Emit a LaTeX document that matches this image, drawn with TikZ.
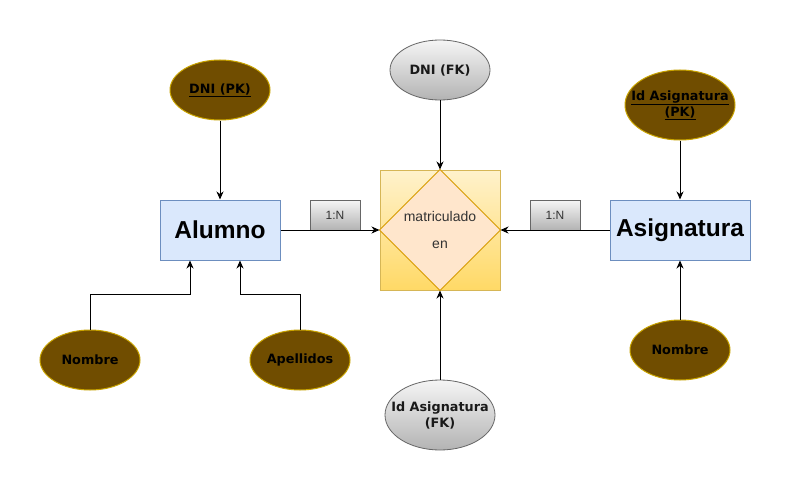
\documentclass[tikz,border=0pt]{standalone}
\usepackage{fontspec}
\setmainfont{Liberation Sans}
\newfontfamily\attrfont{DejaVu Sans}
\usetikzlibrary{shapes.geometric,arrows.meta}
\definecolor{brownfill}{HTML}{704D00}
\definecolor{brownline}{HTML}{C9A400}
\definecolor{entfill}{HTML}{DAE8FC}
\definecolor{entline}{HTML}{6C8EBF}
\definecolor{sqtop}{HTML}{FFF2CC}
\definecolor{sqbot}{HTML}{FFD966}
\definecolor{sqline}{HTML}{D6B656}
\definecolor{dmfill}{HTML}{FFE6CC}
\definecolor{dmline}{HTML}{D79B00}
\definecolor{graytop}{HTML}{F5F5F5}
\definecolor{graybot}{HTML}{B3B3B3}
\definecolor{grayline}{HTML}{666666}
\definecolor{txtdark}{HTML}{333333}
\tikzset{
  pkattr/.style={ellipse, draw=brownline, fill=brownfill, line width=1pt, inner sep=0pt},
  fkattr/.style={ellipse, draw=grayline, top color=graytop, bottom color=graybot, line width=0.8pt, inner sep=0pt},
  attrtext/.style={font=\attrfont\bfseries\fontsize{12.8}{16}\selectfont, text=black, align=center, inner sep=0pt},
  fktext/.style={attrtext, text=black!90},
  entity/.style={rectangle, draw=entline, fill=entfill, line width=1pt, inner sep=0pt,
    font=\bfseries\fontsize{24.5}{28}\selectfont, text=black},
  relsq/.style={rectangle, draw=sqline, top color=sqtop, bottom color=sqbot, line width=1pt,
    minimum width=120pt, minimum height=120pt, inner sep=0pt},
  cardbox/.style={rectangle, draw=grayline, top color=graytop, bottom color=graybot, line width=0.8pt,
    minimum width=50pt, minimum height=30pt, inner sep=0pt, font=\fontsize{12}{14}\selectfont, text=txtdark},
  reltext/.style={font=\fontsize{14}{16}\selectfont, text=txtdark},
  conn/.style={draw=black, line width=1pt},
  arr/.style={conn, -{Stealth[length=8pt,width=7pt,inset=2.5pt]}},
}
\begin{document}
\begin{tikzpicture}[x=1pt,y=-1pt]
\path[use as bounding box, fill=white] (0,0) rectangle (791,492);

% entities
\node[entity, minimum width=120pt, minimum height=60pt] (alumno) at (220,230) {Alumno};
\node[entity, minimum width=140pt, minimum height=60pt] (asig) at (680,230) {Asignatura};

% relationship
\node[relsq] (sq) at (440,230) {};
\draw[draw=dmline, fill=dmfill, line width=1pt] (sq.north) -- (sq.east) -- (sq.south) -- (sq.west) -- cycle;
\node[reltext] (rtxt1) at (440,216) {matriculado};
\node[reltext] (rtxt2) at (440,245) {en};

% attributes
\node[pkattr, minimum width=100pt, minimum height=60pt] (dnipk) at (220,90) {};
\node[attrtext] (dnipkt) at (dnipk.center) {\underline{DNI (PK)}};
\node[fkattr, minimum width=100pt, minimum height=60pt] (dnifk) at (440,70) {};
\node[fktext] (dnifkt) at (dnifk.center) {DNI (FK)};
\node[pkattr, minimum width=110pt, minimum height=70pt] (idpk) at (680,105) {};
\node[attrtext] (idpkt) at (idpk.center) {\underline{Id Asignatura}\\\underline{(PK)}};
\node[pkattr, minimum width=100pt, minimum height=60pt] (nom1) at (90,360) {};
\node[attrtext] (nom1t) at (nom1.center) {Nombre};
\node[pkattr, minimum width=100pt, minimum height=60pt] (ape) at (300,360) {};
\node[attrtext] (apet) at (ape.center) {Apellidos};
\node[fkattr, minimum width=110pt, minimum height=70pt] (idfk) at (440,415) {};
\node[fktext] (idfkt) at (idfk.center) {Id Asignatura\\(FK)};
\node[pkattr, minimum width=100pt, minimum height=60pt] (nom2) at (680,350) {};
\node[attrtext] (nom2t) at (nom2.center) {Nombre};

% cardinality labels
\node[cardbox] (c1) at (335,215) {1:N};
\node[cardbox] (c2) at (555,215) {1:N};

% connectors
\draw[arr] (dnipk.south) -- (alumno.north);
\draw[arr] (dnifk.south) -- (sq.north);
\draw[arr] (idpk.south) -- (asig.north);
\draw[arr] (idfk.north) -- (sq.south);
\draw[arr] (nom2.north) -- (asig.south);
\draw[arr] (alumno.east) -- (sq.west);
\draw[arr] (asig.west) -- (sq.east);
\coordinate (a1) at ([xshift=-30pt]alumno.south);
\coordinate (a2) at ([xshift=20pt]alumno.south);
\draw[arr] (nom1.north) -- ++(0,-35) -| (a1);
\draw[arr] (ape.north) -- ++(0,-35) -| (a2);
\end{tikzpicture}
\end{document}
